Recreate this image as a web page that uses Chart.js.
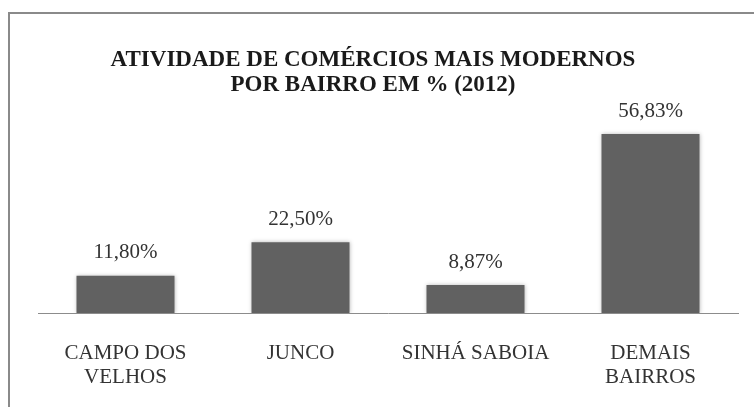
<!DOCTYPE html>
<html>
<head>
<meta charset="utf-8">
<script src="https://cdn.jsdelivr.net/npm/chart.js@4.4.1/dist/chart.umd.min.js"></script>
<style>
  html, body { margin: 0; padding: 0; background: #fff; }
  #wrap { position: relative; width: 754px; height: 407px; overflow: hidden; }
  #frame {
    position: absolute; left: 8px; top: 12px; width: 800px; height: 450px;
    border-left: 2px solid #8a8a8a; border-top: 2px solid #8a8a8a;
  }
  #chart { position: absolute; left: 0; top: 0; }
</style>
</head>
<body>
<div id="wrap">
  <div id="frame"></div>
  <canvas id="chart" width="754" height="407"></canvas>
</div>
<script>
const titleLines = ["ATIVIDADE DE COMÉRCIOS MAIS MODERNOS", "POR BAIRRO EM % (2012)"];
const bairros = [["CAMPO DOS", "VELHOS"], "JUNCO", "SINHÁ SABOIA", ["DEMAIS", "BAIRROS"]];
const percentuais = [11.80, 22.50, 8.87, 56.83];
const valueLabels = ["11,80%", "22,50%", "8,87%", "56,83%"];

const serif = "'Liberation Serif', 'Times New Roman', serif";

// title drawn by hand so it sits a bit left of the plot centre, like the original
const titlePlugin = {
  id: "titleText",
  afterDraw(chart) {
    const ctx = chart.ctx;
    ctx.save();
    ctx.fillStyle = "#1a1a1a";
    ctx.font = `bold 23px ${serif}`;
    ctx.textAlign = "center";
    ctx.textBaseline = "middle";
    titleLines.forEach((line, i) => ctx.fillText(line, 373, 60 + i * 25));
    ctx.restore();
  }
};

const barShadow = {
  id: "barShadow",
  beforeDatasetDraw(chart) {
    const ctx = chart.ctx;
    ctx.save();
    ctx.shadowColor = "rgba(0,0,0,0.28)";
    ctx.shadowBlur = 4;
    ctx.shadowOffsetX = 0;
    ctx.shadowOffsetY = 0;
  },
  afterDatasetDraw(chart) {
    chart.ctx.restore();
  }
};

const valueText = {
  id: "valueText",
  afterDatasetsDraw(chart) {
    const ctx = chart.ctx;
    const meta = chart.getDatasetMeta(0);
    ctx.save();
    ctx.fillStyle = "#333";
    ctx.font = `21px ${serif}`;
    ctx.textAlign = "center";
    ctx.textBaseline = "middle";
    meta.data.forEach((bar, i) => {
      ctx.fillText(valueLabels[i], bar.x, bar.y - 23);
    });
    ctx.restore();
  }
};

new Chart(document.getElementById("chart").getContext("2d"), {
  type: "bar",
  data: {
    labels: bairros,
    datasets: [{
      data: percentuais,
      backgroundColor: "#616161",
      borderWidth: 0,
      barPercentage: 0.56,
      categoryPercentage: 1
    }]
  },
  options: {
    responsive: false,
    animation: false,
    events: [],
    layout: { padding: { left: 38, right: 16, top: 124, bottom: 19 } },
    plugins: {
      legend: { display: false },
      title: { display: false },
      tooltip: { enabled: false }
    },
    scales: {
      x: {
        grid: { display: false, drawTicks: false },
        border: { display: true, color: "#8c8c8c", width: 1 },
        ticks: {
          color: "#333",
          padding: 28,
          maxRotation: 0,
          font: { family: serif, size: 21, lineHeight: 1.15 }
        },
        afterFit(scale) { scale.height = 75; }
      },
      y: {
        display: false,
        min: 0,
        max: 60
      }
    }
  },
  plugins: [barShadow, valueText, titlePlugin]
});
</script>
</body>
</html>
